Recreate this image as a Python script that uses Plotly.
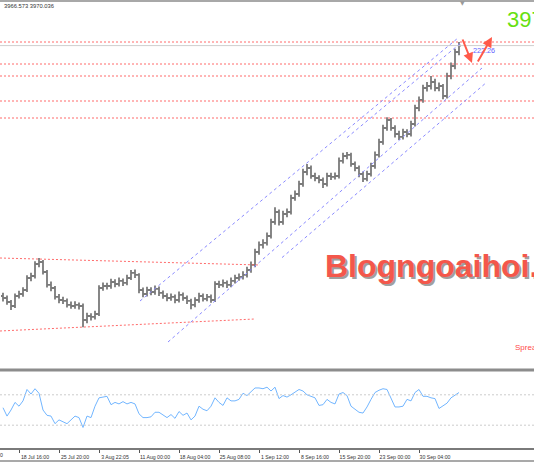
import plotly.graph_objects as go

# ---------------- data ----------------
bar_index = list(range(115))

bar_open = [3344, 3339, 3329, 3319, 3344, 3349, 3359, 3389, 3394, 3424,
            3429, 3404, 3372, 3364, 3342, 3334, 3332, 3322, 3319, 3322,
            3319, 3284, 3294, 3292, 3299, 3364, 3369, 3369, 3379, 3374,
            3382, 3377, 3389, 3402, 3397, 3359, 3349, 3359, 3354, 3362,
            3352, 3344, 3339, 3342, 3334, 3347, 3339, 3332, 3322, 3334,
            3344, 3337, 3342, 3334, 3374, 3372, 3377, 3372, 3382, 3389,
            3392, 3397, 3409, 3422, 3454, 3472, 3477, 3494, 3529, 3554,
            3529, 3549, 3554, 3589, 3599, 3624, 3654, 3664, 3644, 3639,
            3634, 3624, 3644, 3642, 3644, 3682, 3694, 3697, 3674, 3664,
            3649, 3637, 3649, 3669, 3697, 3729, 3764, 3784, 3764, 3749,
            3742, 3754, 3749, 3774, 3814, 3834, 3864, 3869, 3879, 3864,
            3869, 3844, 3894, 3919, 3954]

bar_close = [3339, 3329, 3319, 3344, 3349, 3359, 3389, 3394, 3424, 3429,
             3404, 3372, 3364, 3342, 3334, 3332, 3322, 3319, 3322, 3319,
             3284, 3294, 3292, 3299, 3364, 3369, 3369, 3379, 3374, 3382,
             3377, 3389, 3402, 3397, 3359, 3349, 3359, 3354, 3362, 3352,
             3344, 3339, 3342, 3334, 3347, 3339, 3332, 3322, 3334, 3344,
             3337, 3342, 3334, 3374, 3372, 3377, 3372, 3382, 3389, 3392,
             3397, 3409, 3422, 3454, 3472, 3477, 3494, 3529, 3554, 3529,
             3549, 3554, 3589, 3599, 3624, 3654, 3664, 3644, 3639, 3634,
             3624, 3644, 3642, 3644, 3682, 3694, 3697, 3674, 3664, 3649,
             3637, 3649, 3669, 3697, 3729, 3764, 3784, 3764, 3749, 3742,
             3754, 3749, 3774, 3814, 3834, 3864, 3869, 3879, 3864, 3869,
             3844, 3894, 3919, 3954, 3970]

bar_high = [3352, 3345, 3334, 3350, 3357, 3366, 3396, 3402, 3431, 3439,
            3434, 3409, 3380, 3369, 3349, 3342, 3338, 3330, 3331, 3328,
            3325, 3302, 3301, 3307, 3371, 3378, 3377, 3387, 3386, 3390,
            3388, 3397, 3409, 3410, 3401, 3365, 3367, 3366, 3370, 3368,
            3358, 3351, 3350, 3348, 3355, 3353, 3345, 3337, 3341, 3352,
            3350, 3349, 3348, 3381, 3382, 3385, 3383, 3390, 3397, 3400,
            3406, 3417, 3430, 3462, 3480, 3486, 3503, 3537, 3566, 3560,
            3557, 3563, 3597, 3608, 3632, 3662, 3674, 3670, 3652, 3646,
            3640, 3652, 3652, 3653, 3690, 3702, 3704, 3702, 3680, 3670,
            3655, 3657, 3677, 3705, 3737, 3772, 3791, 3789, 3771, 3757,
            3762, 3761, 3782, 3822, 3843, 3872, 3879, 3894, 3887, 3878,
            3874, 3902, 3928, 3962, 3979]

bar_low = [3330, 3322, 3309, 3314, 3338, 3342, 3354, 3381, 3388, 3416,
           3398, 3365, 3356, 3335, 3326, 3324, 3315, 3312, 3312, 3310,
           3266, 3276, 3283, 3285, 3294, 3357, 3360, 3362, 3366, 3368,
           3369, 3371, 3384, 3389, 3351, 3341, 3343, 3346, 3347, 3344,
           3337, 3331, 3332, 3326, 3328, 3332, 3324, 3311, 3316, 3327,
           3330, 3331, 3327, 3329, 3364, 3366, 3364, 3366, 3375, 3382,
           3385, 3390, 3402, 3416, 3447, 3463, 3470, 3488, 3522, 3520,
           3522, 3541, 3548, 3582, 3592, 3617, 3646, 3637, 3631, 3626,
           3614, 3618, 3634, 3635, 3638, 3675, 3686, 3667, 3656, 3641,
           3629, 3631, 3643, 3662, 3690, 3722, 3757, 3757, 3740, 3734,
           3735, 3741, 3743, 3768, 3806, 3827, 3855, 3860, 3856, 3856,
           3836, 3838, 3886, 3911, 3946]

rsi = [53, 42, 50, 60, 55, 62, 77, 71, 78, 72,
       50, 43, 42, 32, 37, 35, 32, 37, 42, 40,
       27, 42, 40, 55, 66, 67, 68, 57, 60, 58,
       61, 58, 60, 58, 45, 40, 40, 41, 47, 47,
       44, 40, 44, 39, 48, 43, 46, 37, 42, 55,
       51, 49, 55, 66, 60, 56, 66, 62, 62, 64,
       72, 69, 74, 79, 79, 78, 80, 75, 80, 65,
       69, 67, 70, 74, 77, 75, 70, 68, 66, 56,
       57, 64, 60, 58, 71, 73, 69, 55, 51, 47,
       46, 54, 64, 73, 76, 78, 77, 65, 54, 54,
       55, 64, 62, 73, 77, 68, 68, 66, 65, 52,
       55, 59, 66, 70, 73]

tick_bars = [4, 14, 24, 34, 44, 54, 64, 74, 84, 94, 104]
tick_labels = ["18 Jul 16:00", "25 Jul 20:00", "3 Aug 22:05", "11 Aug 00:00",
               "18 Aug 04:00", "25 Aug 08:00", "1 Sep 12:00", "8 Sep 16:00",
               "15 Sep 20:00", "23 Sep 00:00", "30 Sep 04:00"]
cut_label = "11 Jul 12:00"   # label partly hidden at the left edge

level_prices = [3979, 3924, 3894, 3831.5, 3789]   # horizontal red levels
bid_price = 3970
rsi_levels = [70, 30]

# trend lines: (bar0, price0, bar1, price1)
red_trend = [(-0.75, 3439, 64.25, 3421.5),
             (-0.75, 3256.5, 63.0, 3286.5)]
blue_trend = [(34.25, 3331.5, 113.75, 3989),
              (86.0, 3740, 114.75, 3979),
              (41.25, 3229, 119.75, 3914),
              (69.75, 3440, 121.0, 3879)]

# ---------------- figure ----------------
W, H = 534, 462
def py(px):
    return 1 - px / H

fig = go.Figure()
fig.add_trace(go.Ohlc(
    x=bar_index, open=bar_open, high=bar_high, low=bar_low, close=bar_close,
    xaxis="x", yaxis="y",
    increasing=dict(line=dict(color="#7a7a7a", width=1.8)),
    decreasing=dict(line=dict(color="#7a7a7a", width=1.8)),
    tickwidth=0.5, showlegend=False, hoverinfo="skip"))
fig.add_trace(go.Scatter(
    x=bar_index, y=rsi, xaxis="x", yaxis="y2", mode="lines",
    line=dict(color="#72b6ff", width=1), showlegend=False, hoverinfo="skip"))

shapes = []
shapes.append(dict(type="line", xref="paper", yref="paper", x0=0, x1=1,
                   y0=py(1), y1=py(1), line=dict(color="#a8a8a8", width=2)))
shapes.append(dict(type="line", xref="paper", yref="y", x0=0, x1=1,
                   y0=bid_price, y1=bid_price, line=dict(color="#cfcfcf", width=1)))
for p in level_prices:
    shapes.append(dict(type="line", xref="paper", yref="y", x0=0, x1=1,
                       y0=p, y1=p, line=dict(color="#ff6b6b", width=1, dash="2px,2px")))
for (a0, p0, a1, p1) in red_trend:
    shapes.append(dict(type="line", xref="x", yref="y", x0=a0, y0=p0, x1=a1, y1=p1,
                       line=dict(color="#ff6b6b", width=1, dash="2px,2px")))
for (a0, p0, a1, p1) in blue_trend:
    shapes.append(dict(type="line", xref="x", yref="y", x0=a0, y0=p0, x1=a1, y1=p1,
                       line=dict(color="#8a8aff", width=1, dash="3px,3px")))
shapes.append(dict(type="line", xref="paper", yref="paper", x0=0, x1=1,
                   y0=py(370), y1=py(370), line=dict(color="#8c8c8c", width=3)))
for lv in rsi_levels:
    shapes.append(dict(type="line", xref="paper", yref="y2", x0=0, x1=1,
                       y0=lv, y1=lv, line=dict(color="#cccccc", width=1, dash="2px,2px")))
shapes.append(dict(type="line", xref="paper", yref="paper", x0=0, x1=1,
                   y0=py(461), y1=py(461), line=dict(color="#8c8c8c", width=1.5)))

annotations = []
annotations.append(dict(xref="paper", yref="paper", x=2 / W, y=py(6), xanchor="left",
                        yanchor="middle", showarrow=False, text="3966.573 3970.036",
                        font=dict(family="Liberation Sans", size=5.8, color="#333333")))
annotations.append(dict(xref="paper", yref="paper", x=505 / W, y=py(20), xanchor="left",
                        yanchor="middle", showarrow=False, text="3970.03",
                        font=dict(family="Liberation Sans", size=22, color="#66e010")))
annotations.append(dict(xref="paper", yref="paper", x=462 / W, y=py(3), xanchor="center",
                        yanchor="middle", showarrow=False, text="▼",
                        font=dict(family="DejaVu Sans", size=6, color="#9a9a9a")))
annotations.append(dict(xref="paper", yref="paper", x=325 / W, y=py(268), xanchor="left",
                        yanchor="middle", showarrow=False, text="<b>Blogngoaihoi.com</b>",
                        font=dict(family="Liberation Sans", size=32, color="#a0a0a0")))
annotations.append(dict(xref="paper", yref="paper", x=323 / W, y=py(266), xanchor="left",
                        yanchor="middle", showarrow=False, text="<b>Blogngoaihoi.com</b>",
                        font=dict(family="Liberation Sans", size=32, color="#f4574b")))
annotations.append(dict(xref="paper", yref="paper", x=513 / W, y=py(347), xanchor="left",
                        yanchor="middle", showarrow=False, text="Spread: 36",
                        font=dict(family="Liberation Sans", size=8, color="#ff4a4a")))
annotations.append(dict(xref="paper", yref="paper", x=471 / W, y=py(50), xanchor="left",
                        yanchor="middle", showarrow=False, text="222.26",
                        font=dict(family="Liberation Sans", size=7.2, color="#6262ff")))
annotations.append(dict(xref="paper", yref="paper", x=5 / W, y=py(455), xanchor="right",
                        yanchor="middle", showarrow=False, text=cut_label,
                        font=dict(family="Liberation Sans", size=5.2, color="#333333")))
annotations.append(dict(xref="x", yref="y", x=117.25, y=3926.5, ax=-10, ay=-25,
                        showarrow=True, arrowhead=2, arrowsize=1, arrowwidth=2,
                        arrowcolor="#ff5a4a", text=""))
annotations.append(dict(xref="x", yref="y", x=122.25, y=3991.5, ax=-15, ay=26,
                        showarrow=True, arrowhead=2, arrowsize=1, arrowwidth=2,
                        arrowcolor="#ff5a4a", text=""))

fig.update_layout(
    width=W, height=H, margin=dict(l=0, r=0, t=0, b=0),
    paper_bgcolor="white", plot_bgcolor="white", showlegend=False,
    xaxis=dict(domain=[0, 1], range=[-0.75, 132.75], anchor="y2",
               tickmode="array", tickvals=tick_bars, ticktext=tick_labels,
               ticks="outside", ticklen=3, tickcolor="#555555", tickwidth=1,
               showline=True, linecolor="#7a7a7a", linewidth=1.5,
               tickfont=dict(family="Liberation Sans", size=5.2, color="#333333"),
               ticklabelshift=16, showgrid=False, zeroline=False,
               rangeslider=dict(visible=False), fixedrange=True),
    yaxis=dict(domain=[py(368), py(3)], range=[3164, 4076.5], visible=False,
               showgrid=False, zeroline=False),
    yaxis2=dict(domain=[py(448), py(372)], range=[0, 100], visible=False,
                showgrid=False, zeroline=False),
    shapes=shapes, annotations=annotations,
)

fig.write_html("out.html", config={"displayModeBar": False},
               post_script="document.body.style.margin='0';document.body.style.overflow='hidden';")
